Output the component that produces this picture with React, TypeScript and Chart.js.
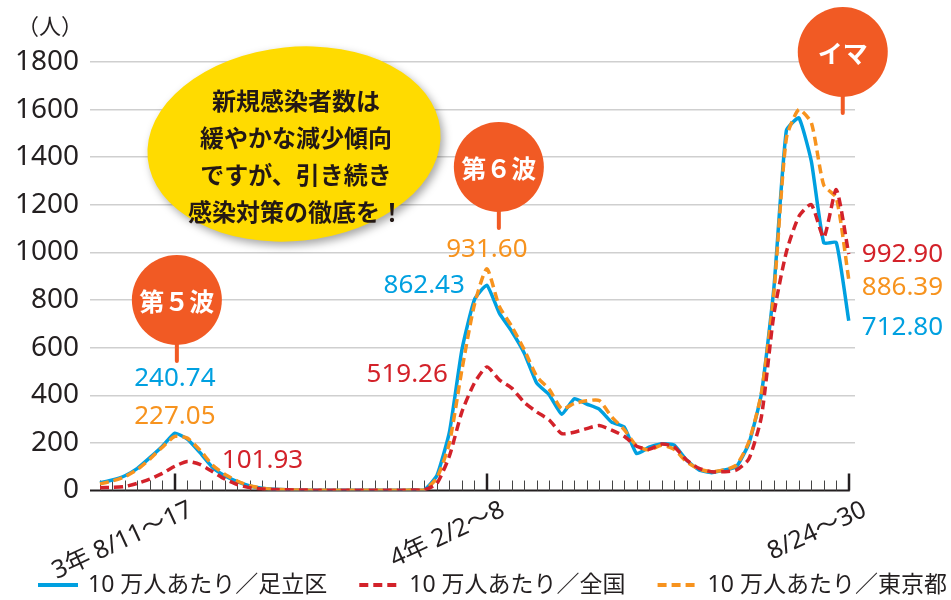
import { useEffect, useRef } from 'react';
import { Chart, registerables } from 'chart.js';

Chart.register(...registerables);

// ---- data (weekly, 10万人あたり新規感染者数) ----
const weekIndex = Array.from({ length: 61 }, (_, i) => i);
const adachi = [
  32, 44, 62, 93, 138, 186, 240.74, 216, 160, 98,
  62, 37, 19, 9, 5, 3, 2, 1, 1, 1,
  1, 1, 1, 1, 1, 2, 3, 63, 245, 591,
  801, 862.43, 745, 668, 577, 451, 402, 320, 385, 363,
  342, 287, 267, 155, 182, 196, 191, 128, 86, 75,
  86, 100, 198, 405, 850, 1512, 1565, 1383, 1040, 1042,
  712.8,
];
const zenkoku = [
  12, 13, 17, 30, 48, 72, 101.93, 122, 110, 80,
  48, 25, 12, 6, 4, 3, 2, 1.5, 1, 1,
  1, 1, 1, 1, 1, 2, 3, 30, 145, 330,
  451, 519.26, 465, 430, 370, 330, 296, 239, 245, 260,
  273, 254, 228, 186, 173, 195, 184, 128, 93, 79,
  79, 86, 133, 310, 740, 1002, 1151, 1201, 1063, 1264,
  992.9,
];
const tokyo = [
  28, 40, 58, 88, 132, 182, 227.05, 220, 170, 108,
  68, 40, 20, 10, 5, 3, 2, 1, 1, 1,
  1, 1, 1, 1, 1, 2, 3, 53, 200, 507,
  780, 931.6, 773, 689, 591, 479, 425, 343, 365, 377,
  378, 310, 256, 188, 170, 190, 173, 121, 90, 79,
  86, 107, 205, 410, 830, 1480, 1600, 1545, 1282, 1230,
  886.39,
];
const seriesNames = ['10 万人あたり／足立区', '10 万人あたり／全国', '10 万人あたり／東京都'];
const majorTickIdx = [6, 31, 60];
const majorTickLabels = ['3年 8/11〜17', '4年 2/2〜8', '8/24〜30'];
const waveIdx = [6, 31, 60];
const waveNames = ['第５波', '第６波', 'イマ'];
const bubbleLines = ['新規感染者数は', '緩やかな減少傾向', 'ですが、引き続き', '感染対策の徹底を！'];
const unitLabel = '（人）';

// ---- styles ----
const BLUE = '#00a0e0';
const RED = '#d3222a';
const ORANGE = '#f7931e';
const CALLOUT = '#f15a24';
const TEXT = '#231f20';
const FONT = '"Noto Sans", "Noto Sans CJK JP", sans-serif';
const CJK = '"Noto Sans CJK JP", sans-serif';
const DASH = [9, 5];

const seriesList = [adachi, zenkoku, tokyo];
const seriesColors = [BLUE, RED, ORANGE];
const seriesDash = [[], DASH, DASH];

// label placement (series, index, pixel offsets)
const valueLabelPlacement = [
  { s: 0, i: 6, dx: 0, dy: -55, align: 'center' },
  { s: 2, i: 6, dx: 0, dy: -20, align: 'center' },
  { s: 1, i: 6, dx: 47, dy: -6, align: 'left' },
  { s: 0, i: 31, dx: -22, dy: 0, align: 'right' },
  { s: 2, i: 31, dx: 0, dy: -19, align: 'center' },
  { s: 1, i: 31, dx: -39, dy: 8, align: 'right' },
  { s: 1, i: 60, dx: 13, dy: 0, align: 'left' },
  { s: 2, i: 60, dx: 13, dy: 8, align: 'left' },
  { s: 0, i: 60, dx: 13, dy: 7, align: 'left' },
];
const calloutPlacement = [
  { dx: 2, stemBottom: 361 },
  { dx: 12, stemBottom: 228 },
  { dx: -6, stemBottom: 113 },
];

const overlayPlugin = {
  id: 'overlay',
  beforeDatasetsDraw(chart: any) {
    const { ctx, chartArea: ca, scales } = chart;
    const xs = scales.x;
    const ys = scales.y;
    const y0 = ys.getPixelForValue(0);
    ctx.save();
    ctx.strokeStyle = TEXT;
    ctx.lineWidth = 2;
    ctx.beginPath();
    ctx.moveTo(ca.left, y0);
    ctx.lineTo(xs.getPixelForValue(weekIndex[weekIndex.length - 1]) + 1, y0);
    ctx.stroke();
    weekIndex.forEach((i) => {
      const major = majorTickIdx.includes(i);
      const px = Math.round(xs.getPixelForValue(i)) + (major ? 0 : 0.5);
      ctx.lineWidth = major ? 2.5 : 1;
      ctx.strokeStyle = major ? TEXT : '#444';
      ctx.beginPath();
      ctx.moveTo(px, y0);
      ctx.lineTo(px, y0 - (major ? 17 : 10));
      ctx.stroke();
    });
    ctx.restore();
  },
  afterDraw(chart: any) {
    const { ctx, chartArea: ca, scales } = chart;
    const xs = scales.x;
    const ys = scales.y;
    const y0 = ys.getPixelForValue(0);
    ctx.save();

    // unit
    ctx.fillStyle = TEXT;
    ctx.font = `22px ${CJK}`;
    ctx.textAlign = 'center';
    ctx.textBaseline = 'middle';
    ctx.fillText(unitLabel, ca.left - 40, ca.top - 36);

    // x labels (rotated)
    ctx.font = `25px ${FONT}`;
    majorTickIdx.forEach((idx, k) => {
      const px = xs.getPixelForValue(idx);
      ctx.save();
      ctx.translate(px + 11, y0 + 7);
      ctx.rotate((-25 * Math.PI) / 180);
      ctx.textAlign = 'right';
      ctx.textBaseline = 'top';
      ctx.fillText(majorTickLabels[k], 0, 0);
      ctx.restore();
    });

    // legend
    ctx.font = `23px ${FONT}`;
    ctx.textAlign = 'left';
    ctx.textBaseline = 'middle';
    let lx = 38;
    const ly = 585;
    seriesNames.forEach((name, k) => {
      ctx.save();
      ctx.strokeStyle = seriesColors[k];
      ctx.lineWidth = 4;
      ctx.setLineDash(seriesDash[k]);
      ctx.beginPath();
      ctx.moveTo(lx, ly);
      ctx.lineTo(lx + (k === 0 ? 40 : 37), ly);
      ctx.stroke();
      ctx.restore();
      ctx.fillStyle = TEXT;
      ctx.fillText(name, lx + 50, ly);
      lx += 50 + ctx.measureText(name).width + 32;
    });

    // yellow speech ellipse
    const ex = ca.left + 204;
    const ey = ca.top + 82;
    ctx.save();
    ctx.shadowColor = 'rgba(0,0,0,0.35)';
    ctx.shadowBlur = 8;
    ctx.shadowOffsetX = 3;
    ctx.shadowOffsetY = 4;
    ctx.fillStyle = '#ffdb00';
    ctx.beginPath();
    ctx.ellipse(ex, ey, 147, 97, -0.1, 0, Math.PI * 2);
    ctx.fill();
    ctx.restore();
    ctx.fillStyle = '#231815';
    ctx.font = `bold 24px ${CJK}`;
    ctx.textAlign = 'center';
    ctx.textBaseline = 'middle';
    bubbleLines.forEach((line, k) => {
      ctx.fillText(line, ex + 2, ey - 43 + k * 37);
    });

    // callouts
    waveIdx.forEach((idx, k) => {
      const p = calloutPlacement[k];
      const px = xs.getPixelForValue(idx) + p.dx;
      const sb = p.stemBottom;
      const r = 45;
      const cy = sb - 16 - r;
      ctx.strokeStyle = CALLOUT;
      ctx.lineWidth = 4;
      ctx.lineCap = 'round';
      ctx.beginPath();
      ctx.moveTo(px, sb);
      ctx.lineTo(px, cy + r - 2);
      ctx.stroke();
      ctx.fillStyle = CALLOUT;
      ctx.beginPath();
      ctx.arc(px, cy, r, 0, Math.PI * 2);
      ctx.fill();
      ctx.fillStyle = '#ffffff';
      ctx.font = `bold 25px ${CJK}`;
      ctx.textAlign = 'center';
      ctx.textBaseline = 'middle';
      ctx.fillText(waveNames[k], px, cy + 1);
    });

    // value labels
    ctx.font = `26px ${FONT}`;
    ctx.textBaseline = 'middle';
    valueLabelPlacement.forEach((p) => {
      const v = seriesList[p.s][p.i];
      ctx.fillStyle = seriesColors[p.s];
      ctx.textAlign = p.align as CanvasTextAlign;
      ctx.fillText(v.toFixed(2), xs.getPixelForValue(p.i) + p.dx, ys.getPixelForValue(v) + p.dy);
    });

    ctx.restore();
  },
};

export default function App() {
  const ref = useRef<HTMLCanvasElement>(null);
  useEffect(() => {
    document.body.style.margin = '0';
    const canvas = ref.current!;
    const pts = (arr: number[]) => arr.map((v, i) => ({ x: weekIndex[i], y: v }));
    const chart = new Chart(canvas, {
      type: 'line',
      data: {
        datasets: [
          {
            label: seriesNames[0],
            data: pts(adachi),
            borderColor: BLUE,
            backgroundColor: BLUE,
            borderWidth: 3.5,
            pointRadius: 0,
            tension: 0.15,
            order: 3,
          },
          {
            label: seriesNames[1],
            data: pts(zenkoku),
            borderColor: RED,
            backgroundColor: RED,
            borderWidth: 3.5,
            borderDash: DASH,
            pointRadius: 0,
            tension: 0.2,
            order: 1,
          },
          {
            label: seriesNames[2],
            data: pts(tokyo),
            borderColor: ORANGE,
            backgroundColor: ORANGE,
            borderWidth: 3.5,
            borderDash: DASH,
            pointRadius: 0,
            tension: 0.2,
            order: 2,
          },
        ],
      },
      options: {
        animation: false,
        responsive: false,
        events: [],
        layout: { padding: { top: 62, right: 96, left: 0, bottom: 0 } },
        scales: {
          x: {
            type: 'linear',
            min: -0.8,
            max: 60.5,
            ticks: { display: false },
            grid: { display: false },
            border: { display: false },
            afterFit: (s: any) => {
              s.height = 109.5;
            },
          },
          y: {
            min: 0,
            max: 1800,
            ticks: {
              stepSize: 200,
              color: TEXT,
              font: { size: 28, family: FONT },
              padding: 11,
              callback: (v: any) => String(v),
            },
            grid: {
              color: (c: any) => (c.tick && c.tick.value === 0 ? 'rgba(0,0,0,0)' : '#cfcfcf'),
              lineWidth: 1.5,
              drawTicks: false,
            },
            border: { display: false },
            afterFit: (s: any) => {
              s.width = 90;
            },
          },
        },
        plugins: {
          tooltip: { enabled: false },
          legend: { display: false },
        },
      },
      plugins: [overlayPlugin],
    } as any);
    return () => chart.destroy();
  }, []);
  return <canvas ref={ref} width={951} height={600} style={{ display: 'block' }} />;
}
